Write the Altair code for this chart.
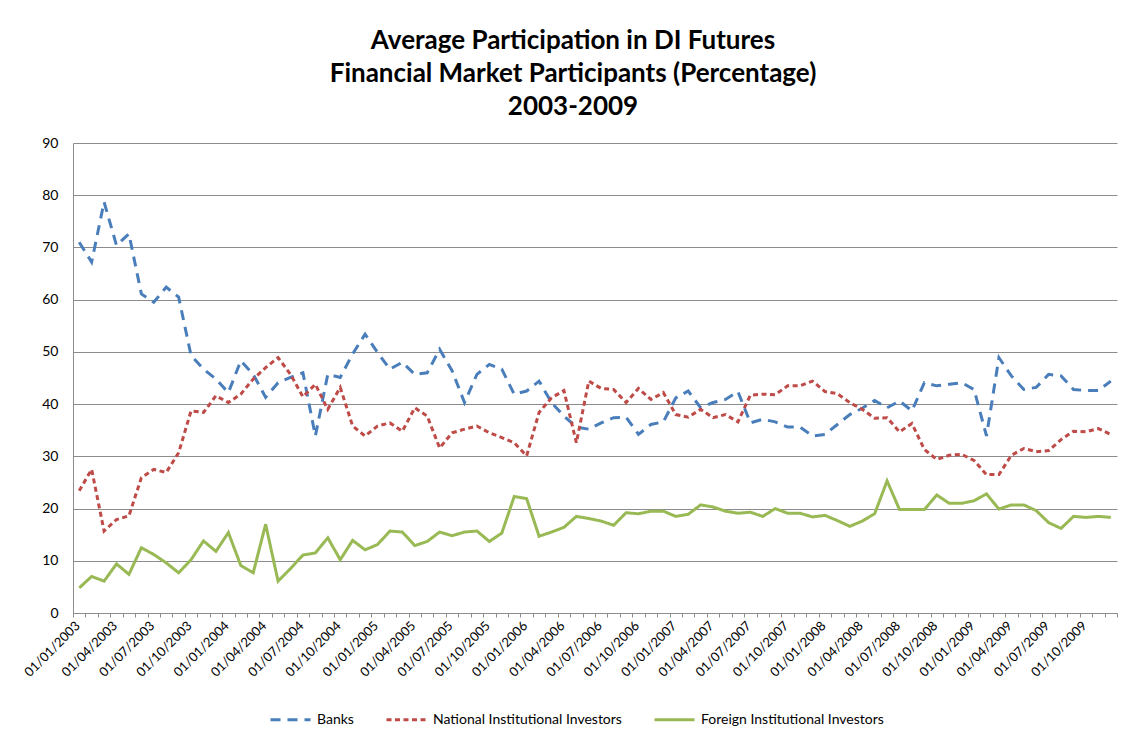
import altair as alt
import pandas as pd

# Monthly category labels (01/01/2003 ... 01/12/2009)
years = [2003, 2004, 2005, 2006, 2007, 2008, 2009]
months = ["01", "02", "03", "04", "05", "06", "07", "08", "09", "10", "11", "12"]
dates = [f"01/{m}/{y}" for y in years for m in months]

series_names = ["Banks", "National Institutional Investors", "Foreign Institutional Investors"]
series_colors = ["#4A7EBB", "#BE4B48", "#98B954"]

banks = [
    71.0, 67.2, 78.7, 70.4, 72.6, 61.1, 59.5, 62.4, 60.5, 49.3, 46.7, 44.8,
    42.2, 48.3, 45.7, 41.3, 44.1, 45.1, 46.0, 33.9, 45.7, 45.1, 49.6, 53.4,
    49.9, 46.7, 48.0, 45.7, 46.0, 50.5, 46.4, 40.3, 45.7, 47.6, 46.7, 41.9,
    42.5, 44.4, 40.3, 37.7, 35.6, 35.2, 36.4, 37.4, 37.5, 34.2, 36.1, 36.6,
    41.2, 42.5, 39.3, 40.3, 40.9, 42.4, 36.4, 37.1, 36.6, 35.6, 35.6, 33.9,
    34.2, 36.1, 38.0, 39.2, 40.7, 39.3, 40.6, 38.7, 44.1, 43.5, 43.8, 44.1,
    42.8, 33.9, 48.9, 45.4, 42.8, 43.2, 45.7, 45.4, 42.8, 42.6, 42.6, 44.4,
]
national = [
    23.4, 27.5, 15.7, 17.9, 18.6, 25.9, 27.5, 26.9, 30.7, 38.7, 38.4, 41.6,
    40.3, 41.9, 44.8, 47.0, 48.9, 45.7, 41.4, 43.8, 39.0, 43.2, 35.8, 33.9,
    35.8, 36.4, 34.8, 39.3, 37.7, 31.6, 34.5, 35.2, 35.8, 34.5, 33.6, 32.6,
    30.1, 38.4, 41.2, 42.6, 32.6, 44.4, 43.0, 42.8, 40.3, 43.0, 40.9, 42.2,
    38.0, 37.5, 39.0, 37.4, 38.0, 36.6, 41.7, 41.9, 41.8, 43.5, 43.5, 44.4,
    42.4, 42.0, 40.3, 39.0, 37.3, 37.4, 34.7, 36.3, 31.3, 29.4, 30.2, 30.4,
    29.2, 26.5, 26.5, 30.2, 31.5, 30.9, 31.1, 33.2, 34.8, 34.7, 35.3, 34.2,
]
foreign = [
    4.8, 7.0, 6.1, 9.4, 7.4, 12.5, 11.2, 9.6, 7.7, 10.2, 13.8, 11.8,
    15.4, 9.1, 7.7, 17.0, 6.1, 8.5, 11.1, 11.5, 14.4, 10.2, 13.9, 12.1,
    13.1, 15.7, 15.5, 12.9, 13.7, 15.5, 14.8, 15.5, 15.7, 13.7, 15.3, 22.3,
    21.9, 14.7, 15.5, 16.4, 18.5, 18.1, 17.6, 16.8, 19.2, 19.0, 19.5, 19.5,
    18.5, 18.9, 20.7, 20.3, 19.5, 19.1, 19.3, 18.5, 20.0, 19.1, 19.1, 18.4,
    18.7, 17.7, 16.6, 17.6, 19.0, 25.3, 19.8, 19.8, 19.8, 22.6, 21.0, 21.0,
    21.5, 22.8, 19.9, 20.7, 20.7, 19.6, 17.3, 16.2, 18.5, 18.3, 18.5, 18.3,
]

rows = []
for name, vals in zip(series_names, [banks, national, foreign]):
    for d, v in zip(dates, vals):
        rows.append({"date": d, "series": name, "value": v})
df = pd.DataFrame(rows)

FONT = "Lato"
GRID = "#8C8C8C"

legend = alt.Legend(
    title=None, orient="none", legendX=196, legendY=555, direction="horizontal",
    symbolType="stroke", symbolStrokeWidth=3, symbolSize=1600,
    labelFont=FONT, labelFontSize=14, labelColor="#000000", labelLimit=400,
    columnPadding=26, labelOffset=5,
)

chart = alt.Chart(df).mark_line(strokeWidth=3).encode(
    x=alt.X(
        "date:O",
        bandPosition=0.5,
        scale=alt.Scale(type="band", domain=dates, paddingInner=0, paddingOuter=0),
        axis=alt.Axis(
            title=None, tickBand="extent", labelAngle=-45,
            labelExpr="indexof(['01','04','07','10'], substring(datum.value, 3, 5)) >= 0 ? datum.value : ''",
            labelFont=FONT, labelFontSize=13, labelColor="#000000", labelPadding=2,
            labelOffset=-6,
            tickColor=GRID, tickSize=4, domainColor=GRID, grid=False,
        ),
    ),
    y=alt.Y(
        "value:Q",
        scale=alt.Scale(domain=[0, 90], nice=False),
        axis=alt.Axis(
            title=None, values=list(range(0, 91, 10)), tickSize=0, labelPadding=15,
            labelFont=FONT, labelFontSize=14, labelColor="#000000",
            gridColor=GRID, gridWidth=1, domainColor=GRID,
        ),
    ),
    color=alt.Color("series:N", scale=alt.Scale(domain=series_names, range=series_colors), legend=legend),
    strokeDash=alt.StrokeDash(
        "series:N",
        scale=alt.Scale(domain=series_names, range=[[10, 7], [5, 3.5], [1, 0]]),
        legend=legend,
    ),
).properties(
    width=1044,
    height=470,
    autosize=alt.AutoSizeParams(type="none"),
    padding={"left": 65, "top": 135, "right": 10, "bottom": 115},
    title=alt.TitleParams(
        ["Average Participation in DI Futures", "Financial Market Participants (Percentage)", "2003-2009"],
        font=FONT, fontSize=26, fontWeight="bold", lineHeight=33, color="#000000",
        anchor="middle", frame="group", offset=16, dx=-22,
    ),
).configure_view(stroke=None)

chart.save("out.html", embed_options={"renderer": "svg", "actions": False})
